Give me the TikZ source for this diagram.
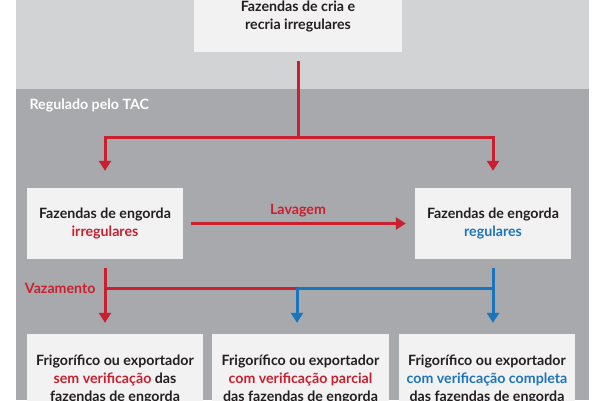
\documentclass[tikz,border=0pt]{standalone}
\usepackage{fontspec}
\setmainfont{Lato}
\usepackage{tikz}
\usetikzlibrary{calc,positioning,arrows.meta}
\definecolor{bglight}{RGB}{209,211,212}
\definecolor{bgdark}{RGB}{167,169,172}
\definecolor{boxfill}{RGB}{242,242,242}
\definecolor{tacred}{RGB}{200,32,46}
\definecolor{tacblue}{RGB}{27,117,188}
\definecolor{txt}{RGB}{35,31,32}
\tikzset{
    farmbox/.style={fill=boxfill, inner sep=0pt, align=center, text=txt,
        font=\bfseries\fontsize{14.2}{18}\selectfont},
    redline/.style={draw=tacred, line width=3pt},
    blueline/.style={draw=tacblue, line width=3pt},
    redarrow/.style={redline, -{Triangle[width=12pt,length=10pt]}},
    bluearrow/.style={blueline, -{Triangle[width=12pt,length=10pt]}},
    flowlabel/.style={text=tacred, font=\bfseries\fontsize{14.2}{16}\selectfont},
}
\newcommand{\redtxt}[1]{\textcolor{tacred}{#1}}
\newcommand{\bluetxt}[1]{\textcolor{tacblue}{#1}}

\begin{document}
\begin{tikzpicture}[x=1pt,y=1pt,yscale=-1,xscale=1]
\useasboundingbox (0,0) rectangle (600,400);
\clip (0,0) rectangle (600,400);
%Background
\fill[bglight] (16,0) rectangle (589,89);
\fill[bgdark] (16,89) rectangle (589,400);
\node[anchor=west, text=white, font=\bfseries\fontsize{14.2}{16}\selectfont] (tac) at (26,106) {Regulado pelo TAC};
%Boxes
\node[farmbox, minimum width=208pt, minimum height=70pt] (cria) at (298,17) {Fazendas de cria e\\recria irregulares};
\node[farmbox, minimum width=156pt, minimum height=71pt] (irr) at (105,223.5) {Fazendas de engorda\\\redtxt{irregulares}};
\node[farmbox, minimum width=156pt, minimum height=71pt] (reg) at (493,223.5) {Fazendas de engorda\\\bluetxt{regulares}};
\node[farmbox, minimum width=176pt, minimum height=90pt] (sem) at (115,379) {Frigorífico ou exportador\\\redtxt{sem verificação} das\\fazendas de engorda};
\node[farmbox, minimum width=177pt, minimum height=90pt] (parcial) at (300.5,379) {Frigorífico ou exportador\\\redtxt{com verificação parcial}\\das fazendas de engorda};
\node[farmbox, minimum width=176pt, minimum height=90pt] (completa) at (487,379) {Frigorífico ou exportador\\\bluetxt{com verificação completa}\\das fazendas de engorda};
%Top split
\coordinate (split) at (cria.south |- 0,137);
\draw[redline, shorten <=9pt] (cria.south) -- (split);
\draw[redarrow, shorten >=17pt] (split) -| (irr.north);
\draw[redarrow, shorten >=17pt] (split) -| (reg.north);
%Lavagem
\draw[redarrow, shorten <=8pt, shorten >=9pt] (irr.east) -- (reg.west);
\node[flowlabel] (lav) at (298,211) {Lavagem};
%Lower split
\coordinate (mid) at (297,288);
\draw[redarrow, shorten <=9pt, shorten >=11pt] (irr.south) -- (irr.south |- sem.north);
\draw[redline] (irr.south |- mid) -- (mid);
\draw[blueline] (mid) -- (reg.south |- mid);
\draw[bluearrow, shorten >=11pt] (mid) -- (mid |- parcial.north);
\draw[bluearrow, shorten <=9pt, shorten >=11pt] (reg.south) -- (reg.south |- completa.north);
\node[flowlabel, anchor=east] (vaz) at ([xshift=-6pt]irr.south |- mid) {Vazamento};
\end{tikzpicture}
\end{document}
